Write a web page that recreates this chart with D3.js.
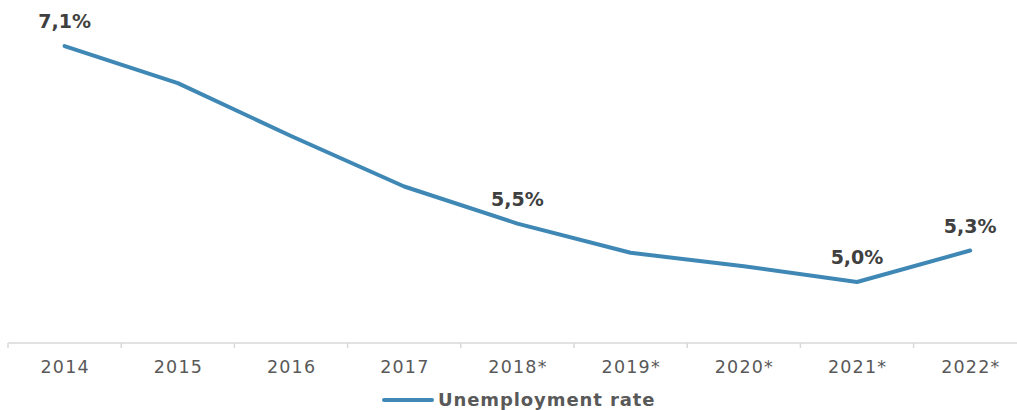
<!DOCTYPE html>
<html>
<head>
<meta charset="utf-8">
<script src="https://cdn.jsdelivr.net/npm/d3@7"></script>
<style>
  html, body { margin: 0; padding: 0; background: #fff; }
  svg { display: block; font-family: "DejaVu Sans", Verdana, sans-serif; }
</style>
</head>
<body>
<div id="chart"></div>
<script>
// data
const years = ["2014", "2015", "2016", "2017", "2018*", "2019*", "2020*", "2021*", "2022*"];
const rates = [7.10, 6.77, 6.30, 5.85, 5.52, 5.26, 5.14, 5.00, 5.28];
const labelled = ["2014", "2018*", "2021*", "2022*"];
const labelText = { "2014": "7,1%", "2018*": "5,5%", "2021*": "5,0%", "2022*": "5,3%" };
const seriesName = "Unemployment rate";

const width = 1017, height = 410;
const lineColor = "#3f88b5";

const svg = d3.select("#chart").append("svg")
    .attr("width", width).attr("height", height);

const x = d3.scaleBand().domain(years).range([8, 8 + 9 * 113.2]);
const y = d3.scaleLinear().domain([4.457, 7.51]).range([343, 0]);

// x axis
const axisY = 343;
svg.append("line")
    .attr("x1", x.range()[0]).attr("x2", x.range()[1])
    .attr("y1", axisY).attr("y2", axisY)
    .attr("stroke", "#d9d9d9").attr("stroke-width", 1.5);

const bounds = years.map(d => x(d)).concat([x.range()[1]]);
svg.selectAll("line.tick").data(bounds).enter().append("line")
    .attr("class", "tick")
    .attr("x1", d => d).attr("x2", d => d)
    .attr("y1", axisY).attr("y2", axisY + 5)
    .attr("stroke", "#d9d9d9").attr("stroke-width", 1.5);

svg.selectAll("text.xlab").data(years).enter().append("text")
    .attr("class", "xlab")
    .attr("x", d => x(d) + x.bandwidth() / 2 + 0.6)
    .attr("y", 373)
    .attr("text-anchor", "middle")
    .attr("font-size", "17.5px")
    .attr("letter-spacing", "1.2px")
    .attr("fill", "#595959")
    .text(d => d);

// line
const line = d3.line()
    .x((d, i) => x(years[i]) + x.bandwidth() / 2)
    .y(d => y(d));

svg.append("path")
    .datum(rates)
    .attr("d", line)
    .attr("fill", "none")
    .attr("stroke", lineColor)
    .attr("stroke-width", 4)
    .attr("stroke-linejoin", "round")
    .attr("stroke-linecap", "round");

// data labels
svg.selectAll("text.dlab").data(labelled).enter().append("text")
    .attr("class", "dlab")
    .attr("x", d => x(d) + x.bandwidth() / 2)
    .attr("y", d => y(rates[years.indexOf(d)]) - 18)
    .attr("text-anchor", "middle")
    .attr("font-size", "19px")
    .attr("font-weight", "bold")
    .attr("fill", "#404040")
    .text(d => labelText[d]);

// legend
const lg = svg.append("g");
lg.append("line")
    .attr("x1", 384).attr("x2", 432)
    .attr("y1", 400).attr("y2", 400)
    .attr("stroke", lineColor).attr("stroke-width", 4)
    .attr("stroke-linecap", "round");
lg.append("text")
    .attr("x", 438).attr("y", 406)
    .attr("font-size", "18px")
    .attr("font-weight", "bold")
    .attr("letter-spacing", "0.9px")
    .attr("fill", "#595959")
    .text(seriesName);
</script>
</body>
</html>
